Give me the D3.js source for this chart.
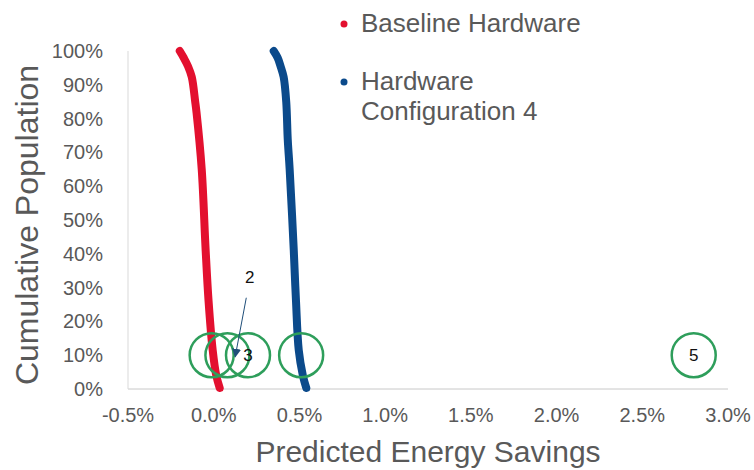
<!DOCTYPE html>
<html>
<head>
<meta charset="utf-8">
<script src="https://d3js.org/d3.v7.min.js"></script>
<style>
  body { margin: 0; background: #fff; }
  svg { font-family: "Liberation Sans", Arial, sans-serif; }
</style>
</head>
<body>
<svg id="chart"></svg>
<script>
// ---- data ----
const xTicks = [-0.5, 0.0, 0.5, 1.0, 1.5, 2.0, 2.5, 3.0];
const yTicks = [0, 10, 20, 30, 40, 50, 60, 70, 80, 90, 100];

// Baseline Hardware (savings %, cumulative %)
const baselineX = [-0.198, -0.175, -0.15, -0.128, -0.108, -0.10, -0.07, -0.047, -0.03, -0.006, 0.015, 0.035];
const baselineY = [100, 98, 95.5, 92.3, 85, 81.7, 65, 41, 26, 11.5, 4, 0.3];

// Hardware Configuration 4
const config4X = [0.35, 0.373, 0.39, 0.408, 0.423, 0.432, 0.443, 0.467, 0.48, 0.496, 0.52, 0.54];
const config4Y = [100, 98, 95.5, 92.3, 85, 73.7, 65, 41, 26, 11.5, 4, 0.3];

const seriesColors = ['#e3102f', '#0b4a8b'];

// green callout circles at 10%
const markerX = [-0.012, 0.08, 0.2, 0.51, 2.8];
const markerLabels = ['', '', '3', '', '5'];
const markerY = 10;

// "2" callout with arrow
const arrowFrom = [0.19, 27];
const arrowTo = [0.125, 9.5];
const arrowLabel = [0.21, 33];

// ---- layout ----
const W = 754, H = 470;
const m = {left: 128, right: 26, top: 51, bottom: 81};

const svg = d3.select('#chart').attr('width', W).attr('height', H);

const x = d3.scaleLinear().domain([-0.5, 3.0]).range([m.left, W - m.right]);
const y = d3.scaleLinear().domain([0, 100]).range([H - m.bottom, m.top]);

// axis lines
svg.append('line')
   .attr('x1', x(-0.5)).attr('x2', x(3.0))
   .attr('y1', y(0)).attr('y2', y(0))
   .attr('stroke', '#c8c8c8').attr('stroke-width', 1);
svg.append('line')
   .attr('x1', x(-0.5)).attr('x2', x(-0.5))
   .attr('y1', y(0)).attr('y2', y(100))
   .attr('stroke', '#d9d9d9').attr('stroke-width', 1);

// tick labels (plain hyphen for the minus, like the original)
svg.append('g').selectAll('text')
   .data(xTicks)
   .join('text')
   .attr('x', d => x(d))
   .attr('y', 422)
   .attr('text-anchor', 'middle')
   .attr('font-size', 20)
   .attr('fill', '#595959')
   .text(d => d.toFixed(1) + '%');

svg.append('g').selectAll('text')
   .data(yTicks)
   .join('text')
   .attr('x', 103)
   .attr('y', d => y(d) + 7)
   .attr('text-anchor', 'end')
   .attr('font-size', 20)
   .attr('fill', '#595959')
   .text(d => d + '%');

// axis titles
svg.append('text')
   .attr('x', (m.left + W - m.right) / 2)
   .attr('y', 462)
   .attr('text-anchor', 'middle')
   .attr('font-size', 30)
   .attr('fill', '#595959')
   .text('Predicted Energy Savings');

svg.append('text')
   .attr('transform', 'translate(38,225) rotate(-90)')
   .attr('text-anchor', 'middle')
   .attr('font-size', 32)
   .attr('fill', '#595959')
   .text('Cumulative Population');

// curves
const line = d3.line()
   .x(d => x(d[0]))
   .y(d => y(d[1]))
   .curve(d3.curveCatmullRom);

const series = [
  d3.zip(baselineX, baselineY),
  d3.zip(config4X, config4Y)
];

svg.append('g').selectAll('path')
   .data(series)
   .join('path')
   .attr('d', line)
   .attr('fill', 'none')
   .attr('stroke', (d, i) => seriesColors[i])
   .attr('stroke-width', 8)
   .attr('stroke-linecap', 'round')
   .attr('stroke-linejoin', 'round');

// green circles
svg.append('g').selectAll('circle')
   .data(markerX)
   .join('circle')
   .attr('cx', d => x(d))
   .attr('cy', y(markerY))
   .attr('r', 22)
   .attr('fill', 'none')
   .attr('stroke', '#2e9e5b')
   .attr('stroke-width', 2.5);

svg.append('g').selectAll('text')
   .data(markerX)
   .join('text')
   .attr('x', d => x(d))
   .attr('y', y(markerY) + 6)
   .attr('text-anchor', 'middle')
   .attr('font-size', 17)
   .attr('fill', '#111')
   .text((d, i) => markerLabels[i]);

// arrow for "2"
svg.append('defs').append('marker')
   .attr('id', 'arrowhead')
   .attr('viewBox', '0 0 10 10')
   .attr('refX', 9).attr('refY', 5)
   .attr('markerWidth', 9).attr('markerHeight', 9)
   .attr('markerUnits', 'userSpaceOnUse')
   .attr('orient', 'auto')
   .append('path')
   .attr('d', 'M0,0 L10,5 L0,10 Z')
   .attr('fill', '#1f4e79');

svg.append('line')
   .attr('x1', x(arrowFrom[0])).attr('y1', y(arrowFrom[1]))
   .attr('x2', x(arrowTo[0])).attr('y2', y(arrowTo[1]))
   .attr('stroke', '#1f4e79')
   .attr('stroke-width', 1)
   .attr('marker-end', 'url(#arrowhead)');

svg.append('text')
   .attr('x', x(arrowLabel[0]))
   .attr('y', y(arrowLabel[1]) + 6)
   .attr('text-anchor', 'middle')
   .attr('font-size', 17)
   .attr('fill', '#111')
   .text('2');

// legend
const legendLines = [['Baseline Hardware'], ['Hardware', 'Configuration 4']];
const legendTop = [32, 90];
const legend = svg.append('g');
legendLines.forEach((lines, i) => {
  legend.append('circle')
        .attr('cx', 344).attr('cy', legendTop[i] - 8)
        .attr('r', 3.5)
        .attr('fill', seriesColors[i]);
  lines.forEach((t, j) => {
    legend.append('text')
          .attr('x', 361)
          .attr('y', legendTop[i] + j * 30)
          .attr('font-size', 26)
          .attr('fill', '#595959')
          .text(t);
  });
});
</script>
</body>
</html>
